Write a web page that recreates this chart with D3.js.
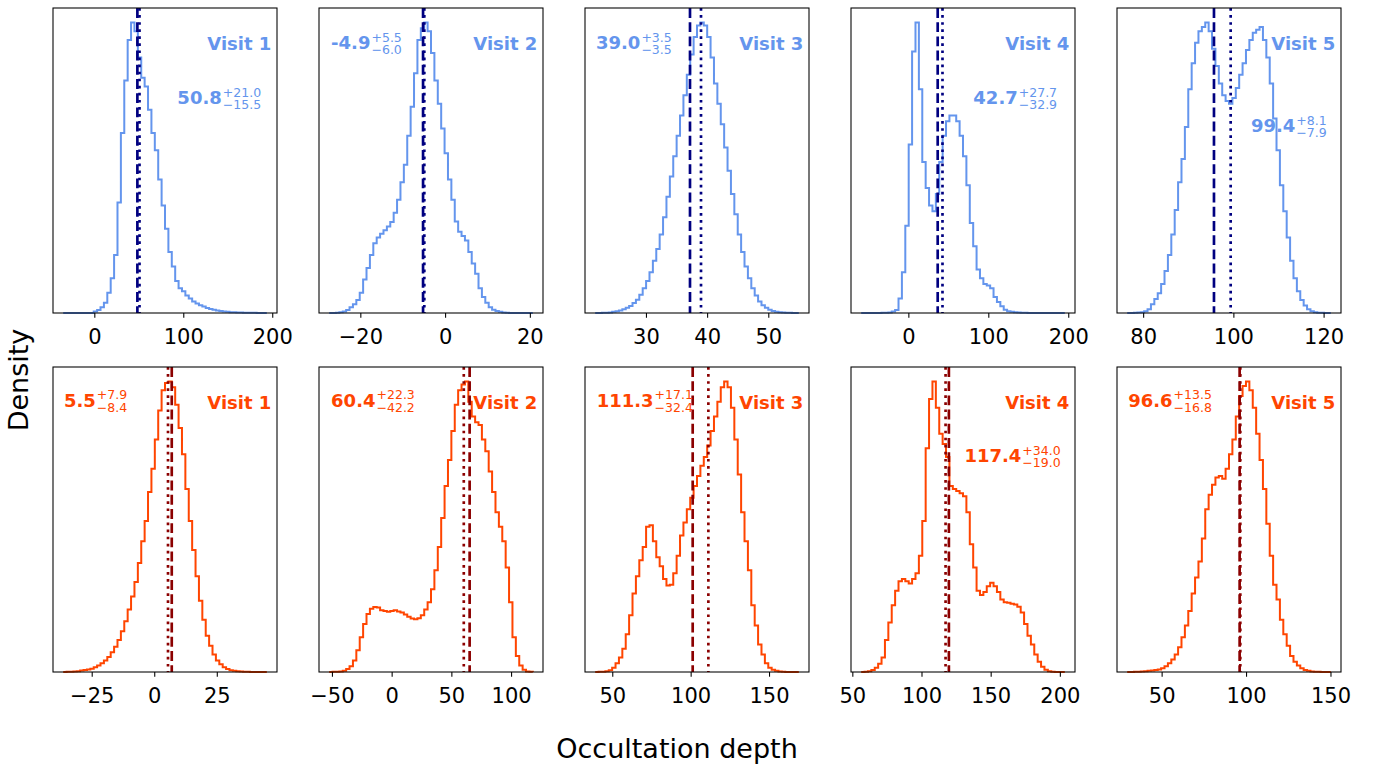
<!DOCTYPE html>
<html>
<head>
<meta charset="utf-8">
<script src="https://cdn.jsdelivr.net/npm/d3@7"></script>
<style>
  body { margin: 0; background: #fff; }
  text { font-family: "DejaVu Sans", sans-serif; }
</style>
</head>
<body>
<div id="chart-area"></div>
<script>

// ---- Data ----

var visits = ["Visit 1", "Visit 2", "Visit 3", "Visit 4", "Visit 5"];

// first and last bin edge of each histogram (60 bins each)
var topRange = [[-35.0, 193.9], [-27.35, 20.7], [21.7, 54.99], [-59.0, 195.7], [76.46, 121.6]];
var bottomRange = [[-36.4, 45.0], [-52.3, 118.2], [39.1, 169.0], [56.4, 203.6], [29.6, 150.2]];

// relative density per bin, top row
var topHist1 = [0, 0, 0, 0, 0, 0, 0, 0, 0, 0.5,
  1, 2, 3.5, 7, 12, 20, 38, 62, 80, 94,
  100, 97, 88, 81, 78, 70, 62, 56, 46, 37,
  29, 21, 16, 11, 8.5, 7.5, 6, 5, 4, 3.3,
  2.7, 2.2, 1.7, 1.4, 1.1, 0.9, 0.7, 0.5, 0.4, 0.3,
  0.25, 0.2, 0.15, 0.1, 0.1, 0.05, 0.05, 0, 0, 0];
var topHist2 = [0, 0, 0.1, 0.3, 0.5, 1, 2, 3, 4.5, 7,
  11.5, 15.5, 20, 24, 26, 27.3, 28.5, 29.8, 31.3, 34.5,
  39, 45, 51, 61, 71, 82.5, 94, 98, 100, 97,
  89.5, 80, 72, 63.5, 55, 46, 39, 31.5, 28, 26.5,
  25, 21, 17, 13.5, 8.5, 5.5, 3.5, 2, 1.1, 0.7,
  0.4, 0.2, 0.1, 0, 0, 0, 0, 0, 0, 0];
var topHist3 = [0, 0, 0.1, 0.1, 0.2, 0.4, 0.6, 0.9, 1.3, 1.8,
  2.4, 3.4, 4.6, 6.3, 8.5, 11, 14, 18, 22, 27,
  33, 40, 47, 54, 61, 68, 75, 82, 89, 95,
  99, 100, 99, 95, 88, 79, 72, 65, 57, 49,
  41, 34, 27, 21, 16, 12, 8.5, 6, 4, 2.7,
  1.8, 1.1, 0.7, 0.4, 0.25, 0.15, 0.1, 0.05, 0, 0];
var topHist4 = [0, 0, 0, 0, 0, 0, 0.1, 0.1, 0.2, 0.5,
  1, 5, 14, 30, 58, 90, 100, 77, 52, 43,
  37, 35, 41, 52, 61, 66, 68, 68, 66, 61,
  54, 44, 31, 23, 15, 12, 10, 9.5, 8.5, 5.5,
  3.8, 2.3, 1.1, 0.6, 0.4, 0.25, 0.15, 0.1, 0.05, 0,
  0, 0, 0, 0, 0, 0, 0, 0, 0, 0];
var topHist5 = [0, 0, 0.1, 0.2, 0.3, 0.6, 1.3, 3, 4.8, 6.8,
  10, 14.5, 20, 27, 35.5, 45, 53, 64, 77, 86,
  93, 97, 98.5, 100, 97, 91, 85, 79, 75, 73,
  72, 74, 77.5, 82, 86, 90.5, 94, 96.5, 97.5, 98.5,
  94, 88, 79, 67, 56, 44, 35, 26, 18, 12,
  7.5, 4.5, 2.6, 1.3, 0.6, 0.3, 0.1, 0.05, 0, 0];

// relative density per bin, bottom row
var bottomHist1 = [0, 0.05, 0.1, 0.2, 0.3, 0.5, 0.7, 0.9, 1.1, 1.6,
  2.2, 3, 4, 5.2, 6.8, 8.7, 11, 14, 17.5, 21.5,
  26, 31, 37.5, 45, 52, 62, 70, 80, 90, 97,
  99.5, 100, 98, 92, 84, 75, 63, 52, 42, 33,
  24.5, 18, 12.5, 9, 6, 4, 2.7, 1.6, 1, 0.6,
  0.4, 0.3, 0.2, 0.1, 0.05, 0, 0, 0, 0, 0];
var bottomHist2 = [0, 0.05, 0.1, 0.2, 0.4, 1, 2, 4, 7.5, 12,
  16.5, 20, 21.8, 22.4, 22.2, 21.3, 21, 20.7, 21, 21.3,
  20.8, 20.5, 19.8, 19, 18.4, 18.2, 18.5, 19.5, 21.5, 24,
  28.5, 35, 43, 53, 64, 73, 83, 92, 97, 99,
  100, 93, 88, 86, 85, 80, 76, 69, 62, 55,
  50, 45, 36, 24, 12, 5.5, 2.2, 0.8, 0.2, 0.05];
var bottomHist3 = [0, 0.05, 0.1, 0.3, 0.6, 1.5, 3, 5, 8, 13,
  19.5, 27, 33, 38.5, 43, 50, 50.5, 45, 39.5, 36.4,
  32, 29.8, 30, 34, 40, 47, 51.5, 56, 60, 64,
  67.5, 71, 74, 78, 83, 88, 93, 98, 100, 98,
  91, 80, 68, 55, 45, 35, 23, 16, 9.5, 6,
  3, 1.5, 0.8, 0.4, 0.2, 0.1, 0, 0, 0, 0];
var bottomHist4 = [0, 0.1, 0.3, 0.7, 1.5, 2.8, 5, 11, 17, 23,
  28, 31.2, 32, 31.2, 30.5, 32, 34, 40, 52, 77,
  94, 100, 91, 82, 78.5, 74, 64, 63, 62.3, 61.5,
  60.5, 55, 44, 36, 28, 26.5, 27.5, 29.5, 30.7, 29.5,
  27.5, 25, 24, 23.8, 23.5, 23.2, 22.5, 20.5, 16.5, 12.5,
  9.5, 6, 3.5, 1.8, 0.8, 0.3, 0.1, 0, 0, 0];
var bottomHist5 = [0, 0, 0.05, 0.1, 0.2, 0.3, 0.4, 0.5, 0.7, 0.9,
  1.3, 2, 3, 4.3, 6, 8.5, 12, 16, 21, 27,
  32.5, 38, 46, 56, 61, 64.5, 67, 67.5, 66.5, 70,
  75, 80, 88, 95, 98.5, 100, 97, 91, 82, 73,
  63, 51, 40, 30, 25, 18, 13, 9, 5.5, 3.5,
  2.2, 1.3, 0.7, 0.4, 0.2, 0.1, 0.05, 0, 0, 0];

var topHists = [topHist1, topHist2, topHist3, topHist4, topHist5];
var bottomHists = [bottomHist1, bottomHist2, bottomHist3, bottomHist4, bottomHist5];

// quoted value with its errors (dotted line) and the dashed reference line
var topBest = [50.8, -4.9, 39.0, 42.7, 99.4];
var topUp = [21.0, 5.5, 3.5, 27.7, 8.1];
var topDown = [15.5, 6.0, 3.5, 32.9, 7.9];
var topDashed = [48.4, -5.2, 37.2, 36.7, 95.7];

var bottomBest = [5.5, 60.4, 111.3, 117.4, 96.6];
var bottomUp = [7.9, 22.3, 17.1, 34.0, 13.5];
var bottomDown = [8.4, 42.2, 32.4, 19.0, 16.8];
var bottomDashed = [7.0, 65.3, 101.3, 119.8, 96.2];

// tick labels
var topTicks = [[0, 100, 200], [-20, 0, 20], [30, 40, 50], [0, 100, 200], [80, 100, 120]];
var bottomTicks = [[-25, 0, 25], [-50, 0, 50, 100], [50, 100, 150], [50, 100, 150, 200], [50, 100, 150]];


// ---- Layout ----

var width = 1379, height = 767;
var panelW = 224, panelH = 305;
var panelX = [53, 319, 585, 851, 1117];

// where the value annotation sits inside each panel (axes fraction)
var topNotes = [
  {anchor: "end", fx: 0.929, fy: 0.316},
  {anchor: "start", fx: 0.054, fy: 0.135},
  {anchor: "start", fx: 0.049, fy: 0.135},
  {anchor: "end", fx: 0.920, fy: 0.316},
  {anchor: "end", fx: 0.936, fy: 0.408}
];
var bottomNotes = [
  {anchor: "start", fx: 0.049, fy: 0.131},
  {anchor: "start", fx: 0.054, fy: 0.131},
  {anchor: "start", fx: 0.052, fy: 0.131},
  {anchor: "end", fx: 0.936, fy: 0.312},
  {anchor: "start", fx: 0.050, fy: 0.131}
];

var rows = [
  {y: 8, hists: topHists, range: topRange, ticks: topTicks, best: topBest, up: topUp, down: topDown,
   dashed: topDashed, notes: topNotes, color: "#6495ED", lineColor: "#000080"},
  {y: 367, hists: bottomHists, range: bottomRange, ticks: bottomTicks, best: bottomBest, up: bottomUp, down: bottomDown,
   dashed: bottomDashed, notes: bottomNotes, color: "#FF4500", lineColor: "#8B0000"}
];

var svg = d3.select("#chart-area").append("svg")
  .attr("width", width)
  .attr("height", height);

rows.forEach(function(row) {
  d3.range(5).forEach(function(i) {
    drawPanel(row, i);
  });
});

// Axis labels
svg.append("text")
  .attr("x", 677)
  .attr("y", 758)
  .attr("text-anchor", "middle")
  .attr("font-size", 27)
  .text("Occultation depth");

svg.append("text")
  .attr("transform", "translate(28,380) rotate(-90)")
  .attr("text-anchor", "middle")
  .attr("font-size", 27)
  .text("Density");


function drawPanel(row, i) {
  var hist = row.hists[i];
  var lo = row.range[i][0], hi = row.range[i][1];
  var binW = (hi - lo) / hist.length;
  var pad = 0.05 * (hi - lo);

  var g = svg.append("g")
    .attr("transform", "translate(" + panelX[i] + "," + row.y + ")");

  // Scales
  var x = d3.scaleLinear()
    .domain([lo - pad, hi + pad])
    .range([0, panelW]);
  var y = d3.scaleLinear()
    .domain([0, d3.max(hist) * 1.05])
    .range([panelH, 0]);

  // step outline of the histogram
  var pts = [[lo, 0]];
  hist.forEach(function(h, k) {
    pts.push([lo + k * binW, h]);
    pts.push([lo + (k + 1) * binW, h]);
  });
  pts.push([hi, 0]);

  var line = d3.line()
    .x(function(d) { return x(d[0]); })
    .y(function(d) { return y(d[1]); });

  g.append("path")
    .datum(pts)
    .attr("d", line)
    .attr("fill", "none")
    .attr("stroke", row.color)
    .attr("stroke-width", 2)
    .attr("stroke-linejoin", "miter");

  // dashed and dotted markers
  g.append("line")
    .attr("x1", x(row.dashed[i])).attr("x2", x(row.dashed[i]))
    .attr("y1", 0).attr("y2", panelH)
    .attr("stroke", row.lineColor)
    .attr("stroke-width", 2.67)
    .attr("stroke-dasharray", "9.9,4.3");

  g.append("line")
    .attr("x1", x(row.best[i])).attr("x2", x(row.best[i]))
    .attr("y1", 0).attr("y2", panelH)
    .attr("stroke", row.lineColor)
    .attr("stroke-width", 2.67)
    .attr("stroke-dasharray", "2.67,4.4");

  // frame
  g.append("rect")
    .attr("width", panelW)
    .attr("height", panelH)
    .attr("fill", "none")
    .attr("stroke", "#000")
    .attr("stroke-width", 1.07);

  // x axis
  var xAxis = d3.axisBottom(x)
    .tickValues(row.ticks[i])
    .tickFormat(d3.format("d"))
    .tickSize(4.7)
    .tickSizeOuter(0);

  var ax = g.append("g")
    .attr("transform", "translate(0," + panelH + ")")
    .call(xAxis);
  ax.select(".domain").remove();
  ax.selectAll(".tick line").attr("stroke", "#000").attr("stroke-width", 1.07);
  ax.selectAll(".tick text")
    .attr("y", 30.5)
    .attr("dy", null)
    .attr("fill", "#000")
    .attr("font-family", "DejaVu Sans")
    .attr("font-size", 21);

  // visit label
  g.append("text")
    .attr("x", 0.975 * panelW)
    .attr("y", 0.137 * panelH)
    .attr("text-anchor", "end")
    .attr("font-weight", "bold")
    .attr("font-size", 18)
    .attr("fill", row.color)
    .text(visits[i]);

  // value with asymmetric errors
  var note = row.notes[i];
  var main = g.append("text")
    .attr("font-weight", "bold")
    .attr("font-size", 18)
    .attr("fill", row.color)
    .text(row.best[i].toFixed(1));
  var sup = g.append("text")
    .attr("font-size", 12.5)
    .attr("fill", row.color)
    .text("+" + row.up[i].toFixed(1));
  var sub = g.append("text")
    .attr("font-size", 12.5)
    .attr("fill", row.color)
    .text("\u2212" + row.down[i].toFixed(1));

  var mw = main.node().getComputedTextLength();
  var sw = Math.max(sup.node().getComputedTextLength(), sub.node().getComputedTextLength());
  var x0 = note.anchor === "end" ? note.fx * panelW - (mw + 1 + sw) : note.fx * panelW;
  var y0 = note.fy * panelH;

  main.attr("x", x0).attr("y", y0);
  sup.attr("x", x0 + mw + 1).attr("y", y0 - 7.5);
  sub.attr("x", x0 + mw + 1).attr("y", y0 + 5);
}

</script>
</body>
</html>
